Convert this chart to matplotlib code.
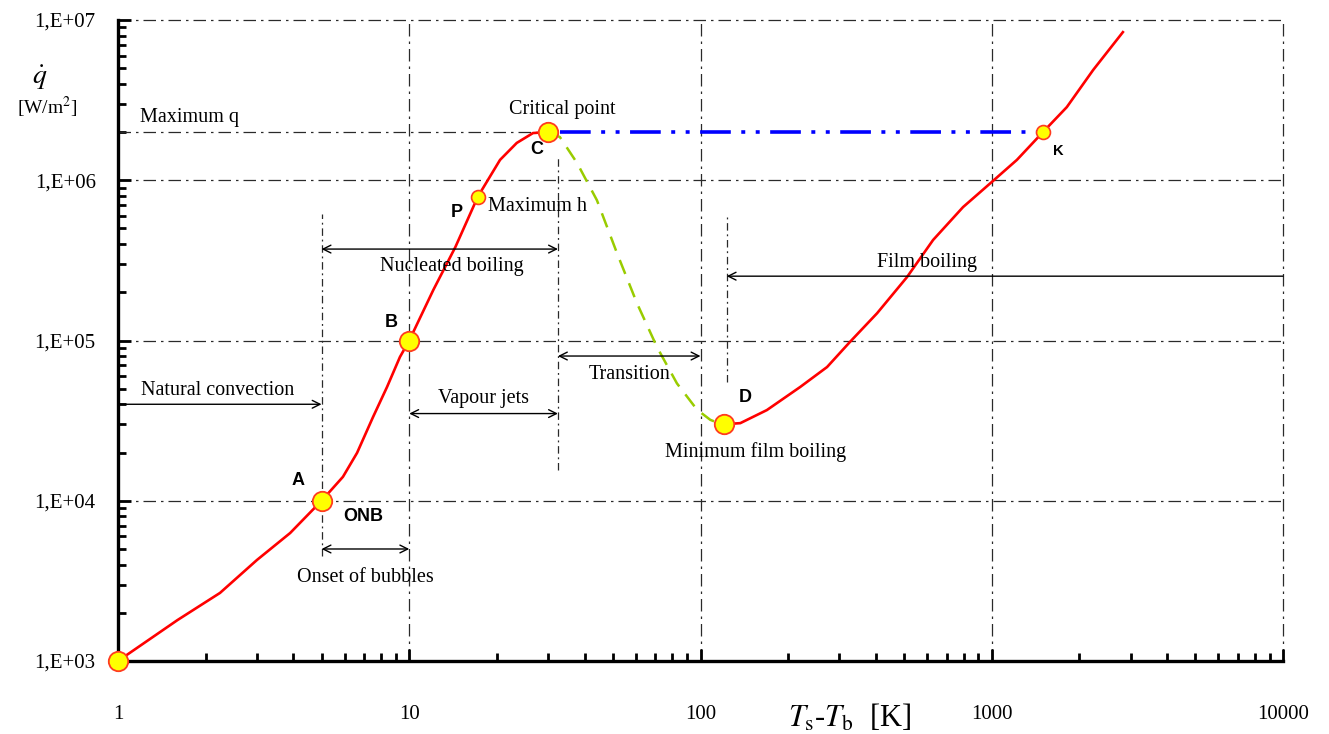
import numpy as np
import matplotlib
matplotlib.use("Agg")
import matplotlib.pyplot as plt

plt.rcParams['font.family'] = ['Liberation Serif', 'DejaVu Serif']
plt.rcParams['mathtext.fontset'] = 'stix'

# Boiling curve (wall superheat [K], heat flux [W/m2])
nb_x = [1.0, 1.6, 2.24, 3.0, 3.9, 5.0, 5.92, 6.62, 7.51, 8.39, 9.29, 10,
        12.1, 14.4, 17.2, 20.5, 23.4, 26.6, 30]
nb_y = [1e3, 1.8e3, 2.66e3, 4.27e3, 6.29e3, 1e4, 1.41e4, 1.99e4, 3.33e4,
        5.13e4, 7.89e4, 1e5, 2.07e5, 3.83e5, 7.9e5, 1.34e6, 1.71e6, 1.97e6, 2e6]

tr_x = [30, 32.9, 37.7, 44.1, 51.7, 60.5, 70.9, 83.0, 97.3, 108, 118]
tr_y = [2e6, 1.86e6, 1.28e6, 7.5e5, 3.5e5, 1.71e5, 9.1e4, 5.4e4, 3.7e4, 3.2e4, 3.0e4]

fb_x = [120, 137, 169, 220, 272, 326, 404, 512, 629, 797, 1000, 1220, 1500,
        1810, 2230, 2820]
fb_y = [3e4, 3.05e4, 3.68e4, 5.13e4, 6.83e4, 9.8e4, 1.48e5, 2.49e5, 4.24e5,
        6.8e5, 9.75e5, 1.34e6, 2e6, 2.86e6, 4.88e6, 8.4e6]

chf_x = [32.9, 1500]
chf_y = [2e6, 2e6]

# marked points
pt_x = [1, 5, 10, 30, 120]
pt_y = [1e3, 1e4, 1e5, 2e6, 3e4]
small_x = [17.2, 1500]
small_y = [7.9e5, 2e6]

xtick_vals = [1, 10, 100, 1000, 10000]
xtick_labels = ['1', '10', '100', '1000', '10000']
ytick_vals = [1e3, 1e4, 1e5, 1e6, 1e7]
ytick_labels = ['1,E+03', '1,E+04', '1,E+05', '1,E+06', '1,E+07']

fig = plt.figure(figsize=(13.29, 7.34), dpi=100)
ax = fig.add_axes([118/1329, 73/734, 1165/1329, 641/734])
ax.set_xscale('log')
ax.set_yscale('log')
ax.set_xlim(1, 10000)
ax.set_ylim(1e3, 1e7)

grid_ls = (0, (10, 4, 2, 4))
ax.set_xticks(xtick_vals)
ax.set_xticklabels(xtick_labels)
ax.set_yticks(ytick_vals)
ax.set_yticklabels(ytick_labels)
ax.grid(True, which='major', linestyle=grid_ls, color='#2a2a2a', lw=0.9)
for gl in ax.get_xgridlines() + ax.get_ygridlines():
    gl.set_clip_on(False)

for s in ['top', 'right']:
    ax.spines[s].set_visible(False)
for s in ['left', 'bottom']:
    ax.spines[s].set_linewidth(2.4)
    ax.spines[s].set_zorder(5)
ax.tick_params(which='both', direction='in', width=2, colors='black')
ax.tick_params(which='major', length=9, labelsize=15)
ax.tick_params(which='minor', length=6)
ax.tick_params(axis='x', which='major', pad=32)
ax.tick_params(axis='y', which='major', pad=16)
ax.xaxis.set_minor_formatter(matplotlib.ticker.NullFormatter())
ax.yaxis.set_minor_formatter(matplotlib.ticker.NullFormatter())

# guide lines
ax.plot([1, 30], [2e6, 2e6], linestyle=grid_ls, color='#2a2a2a', lw=0.9)
ax.plot([5, 5], [4.5e3, 6.2e5], linestyle=(0, (6, 3, 1.5, 3)), color='#2a2a2a', lw=0.9)
ax.plot([32.4, 32.4], [1.56e4, 1.44e6], linestyle=(0, (6, 3, 1.5, 3)), color='#2a2a2a', lw=0.9)
ax.plot([123, 123], [5.5e4, 6.2e5], linestyle=(0, (6, 3, 1.5, 3)), color='#2a2a2a', lw=0.9)

# curves
ax.plot(nb_x, nb_y, color='red', lw=1.9, zorder=3)
ax.plot(tr_x, tr_y, color='#99cc00', lw=1.8, linestyle=(0, (6, 4)), zorder=3)
ax.plot(fb_x, fb_y, color='red', lw=1.9, zorder=3)
ax.plot(chf_x, chf_y, color='#0000ff', lw=2.6,
        linestyle=(0, (8.5, 2.9, 1.1, 2.9, 1.1, 2.9)), zorder=3)

ax.plot(pt_x, pt_y, 'o', ms=14, mfc='#ffff00', mec='#ff3b1f', mew=1.3,
        zorder=6, clip_on=False)
ax.plot(small_x, small_y, 'o', ms=10, mfc='#ffff00', mec='#ff3b1f', mew=1.2,
        zorder=6, clip_on=False)

# arrows
def arrow(x0, x1, y, style):
    ax.annotate('', xy=(x1, y), xytext=(x0, y),
                arrowprops=dict(arrowstyle=style, color='black', lw=1,
                                shrinkA=0, shrinkB=0, mutation_scale=14))

arrow(1, 5, 4e4, '->')
arrow(5, 10, 5.0e3, '<->')
arrow(10, 32.4, 3.5e4, '<->')
arrow(5, 32.4, 3.72e5, '<->')
arrow(32.4, 100, 8.0e4, '<->')
arrow(10000, 123, 2.52e5, '->')

fs = 14.5
ax.text(2.2, 4.25e4, 'Natural convection', fontsize=fs, ha='center', va='bottom')
ax.text(7.07, 3.3e3, 'Onset of bubbles', fontsize=fs, ha='center', va='center')
ax.text(18, 3.8e4, 'Vapour jets', fontsize=fs, ha='center', va='bottom')
ax.text(14, 2.9e5, 'Nucleated boiling', fontsize=fs, ha='center', va='center')
ax.text(57, 6.1e4, 'Transition', fontsize=fs, ha='center', va='center')
ax.text(600, 2.68e5, 'Film boiling', fontsize=fs, ha='center', va='bottom')
ax.text(1.19, 2.48e6, 'Maximum q', fontsize=fs, ha='left', va='center')
ax.text(33.5, 2.75e6, 'Critical point', fontsize=fs, ha='center', va='center')
ax.text(18.6, 6.9e5, 'Maximum h', fontsize=fs, ha='left', va='center')
ax.text(155, 2.02e4, 'Minimum film boiling', fontsize=fs, ha='center', va='center')

bold = dict(family=['Liberation Sans', 'DejaVu Sans'], fontweight='bold',
            ha='center', va='center')
ax.text(4.15, 1.33e4, 'A', fontsize=13, **bold)
ax.text(6.94, 8.0e3, 'ONB', fontsize=13, **bold)
ax.text(8.66, 1.3e5, 'B', fontsize=13, **bold)
ax.text(14.6, 6.25e5, 'P', fontsize=13, **bold)
ax.text(27.5, 1.55e6, 'C', fontsize=13, **bold)
ax.text(143, 4.44e4, 'D', fontsize=13, **bold)
ax.text(1689, 1.52e6, 'K', fontsize=10.5, **bold)

fig.text(40/1329, 1 - 78/734, r'$\dot{q}$', fontsize=20, ha='center', va='center')
fig.text(47/1329, 1 - 107/734, r'[W/m$^2$]', fontsize=14, ha='center', va='center')
fig.text(850/1329, 1 - 718/734, r'$T_{\mathrm{s}}$-$T_{\mathrm{b}}$  [K]',
         fontsize=22, ha='center', va='center')

fig.savefig('out.png', dpi=100)
